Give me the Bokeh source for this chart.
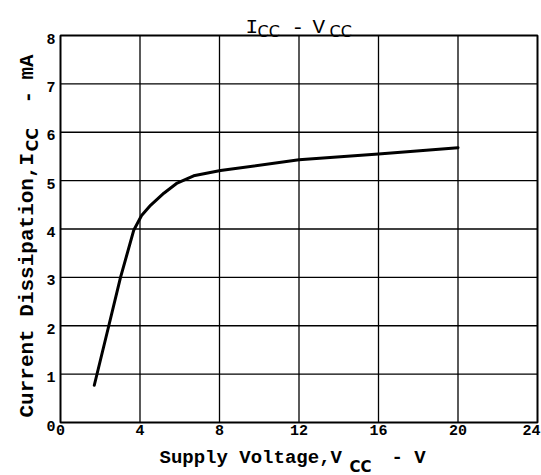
import math
from bokeh.plotting import figure
from bokeh.models import Label, Range1d
from bokeh.core.properties import value
from bokeh.embed import file_html
from bokeh.resources import INLINE

# ---- data ----
supply_v = [1.7, 2.43, 3.02, 3.69, 4.08, 4.53, 5.2, 5.87, 6.7, 8.05, 12.0, 16.0, 20.0]
icc_ma = [0.77, 2.0, 3.0, 3.98, 4.28, 4.49, 4.74, 4.95, 5.1, 5.21, 5.43, 5.55, 5.68]
x_ticks = [0, 4, 8, 12, 16, 20, 24]
y_ticks = [0, 1, 2, 3, 4, 5, 6, 7, 8]
x_lo, x_hi = 0, 24
y_lo, y_hi = 0, 8

W, H = 541, 475
FL, FR, FT, FB = 60, 537, 35, 422   # plot-box edges in canvas pixels
MONO = "Liberation Mono"
SANS = "DejaVu Sans"

# The frame covers the whole canvas; ranges chosen so that the data box
# (0..24, 0..8) sits at the pixel box FL..FR, FT..FB.
sx = (FR - FL) / (x_hi - x_lo)
sy = (FB - FT) / (y_hi - y_lo)
xr = Range1d(x_lo - FL / sx, x_hi + (W - FR) / sx)
yr = Range1d(y_lo - (H - FB) / sy, y_hi + FT / sy)

p = figure(width=W, height=H, x_range=xr, y_range=yr,
           output_backend="svg", toolbar_location=None, title=None,
           x_axis_location=None, y_axis_location=None,
           min_border=0, min_border_left=0, min_border_right=0,
           min_border_top=0, min_border_bottom=0,
           background_fill_color="white", border_fill_color="white")
p.outline_line_color = None
p.grid.visible = False

# grid lines from the tick lists
vx = x_ticks[1:-1]
p.segment(x0=vx, y0=[y_lo] * len(vx), x1=vx, y1=[y_hi] * len(vx),
          line_color="black", line_width=1.3)
hy = y_ticks[1:-1]
p.segment(x0=[x_lo] * len(hy), y0=hy, x1=[x_hi] * len(hy), y1=hy,
          line_color="black", line_width=1.3)

# plot box
p.quad(left=[x_lo], right=[x_hi], bottom=[y_lo], top=[y_hi],
       fill_color=None, line_color="black", line_width=2)

# tick labels
tick_style = dict(text_font=value(MONO), text_font_style="bold",
                  text_font_size="15px", text_color="black")
p.text(x=x_ticks[:-1], y=[y_lo] * (len(x_ticks) - 1),
       text=[str(t) for t in x_ticks[:-1]],
       text_align="center", text_baseline="top", y_offset=2, **tick_style)
# last x label kept inside the canvas edge
p.text(x=x_ticks[-1:], y=[y_lo], text=[str(x_ticks[-1])],
       text_align="right", text_baseline="top", x_offset=3, y_offset=2,
       **tick_style)
p.text(x=[x_lo] * len(y_ticks), y=y_ticks, text=[str(t) for t in y_ticks],
       text_align="right", text_baseline="middle",
       x_offset=-5, y_offset=3, **tick_style)

# curve
p.line(supply_v, icc_ma, line_color="black", line_width=3,
       line_join="round", line_cap="round")


def lab(text, cx, cy, size, font=MONO, style="normal", angle=0.0):
    """cx, cy: canvas pixel position (from top-left) of the baseline anchor."""
    p.add_layout(Label(x=cx, y=cy, x_units="canvas", y_units="canvas",
                       text=text, text_font=font, text_font_style=style,
                       text_font_size=f"{size}px", text_color="black",
                       text_align="left", text_baseline="alphabetic",
                       angle=angle))

# title  I_CC - V_CC
lab("I", 245, 27, 21)
lab("CC", 257, 31, 16, font=SANS)
lab("-", 291, 27, 21)
lab("V", 312, 27, 21)
lab("CC", 329, 31, 16, font=SANS)

# x axis title  Supply Voltage,V_CC - V
lab("Supply Voltage,V", 159, 457, 19, style="bold")
lab("CC", 349, 466, 15, font=SANS, style="bold")
lab("- V", 391, 457, 19, style="bold")

# y axis title  Current Dissipation,I_CC - mA  (rotated)
ang = math.pi / 2
lab("Current Dissipation,I", 27, 417, 21, style="bold", angle=ang)
lab("CC", 32, 151, 16, font=SANS, style="bold", angle=ang)
lab("-", 27, 103, 21, style="bold", angle=ang)
lab("mA", 27, 79, 21, style="bold", angle=ang)

open("out.html", "w").write(file_html(p, INLINE))
